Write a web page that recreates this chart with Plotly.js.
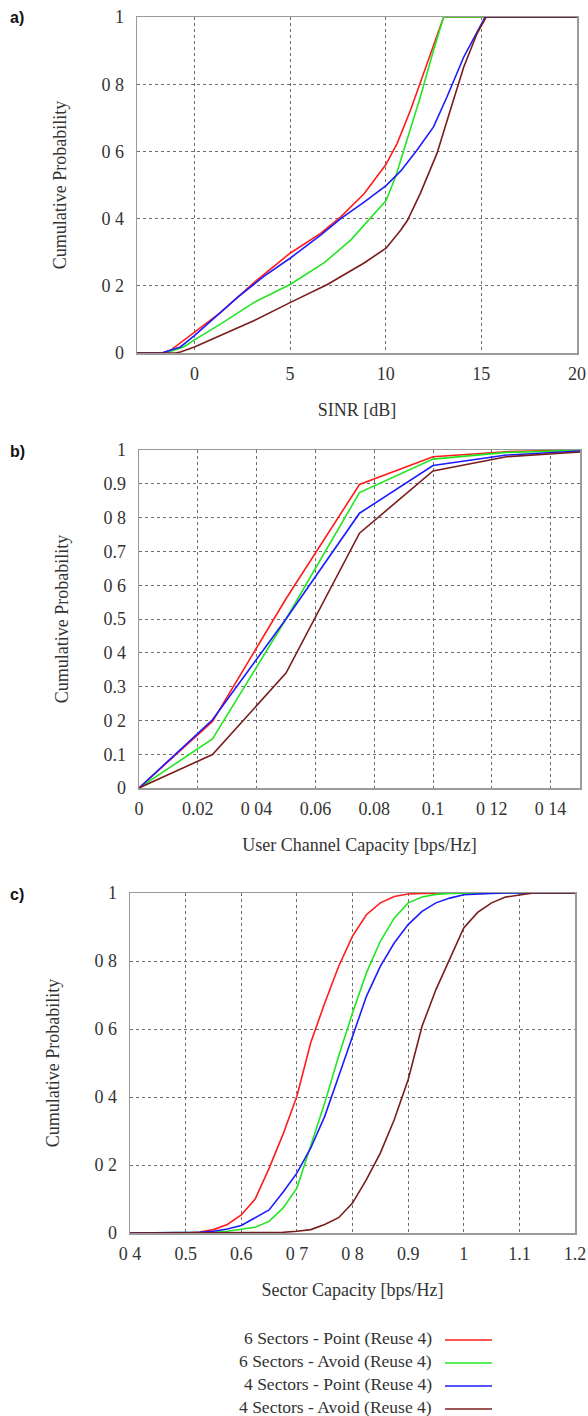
<!DOCTYPE html>
<html>
<head>
<meta charset="utf-8">
<script src="https://cdn.plot.ly/plotly-3.0.1.min.js"></script>
<style>html,body{margin:0;padding:0;background:#fff;}#chart{width:588px;height:1416px;}</style>
</head>
<body>
<div id="chart"></div>
<script>
// ---------- data ----------
const seriesNames = [
  "6 Sectors - Point (Reuse 4)",
  "6 Sectors - Avoid (Reuse 4)",
  "4 Sectors - Point (Reuse 4)",
  "4 Sectors - Avoid (Reuse 4)"
];

// a) SINR [dB] CDFs
const sinrX_6point = [-3, -1.7, -1.25, 0, 1.36, 3.1, 5, 6.6, 7.65, 8.87, 10, 10.6, 11.3, 12.16, 13.03, 20];
const sinrY_6point = [0, 0, 0.008, 0.062, 0.12, 0.209, 0.297, 0.356, 0.405, 0.474, 0.56, 0.624, 0.723, 0.861, 1, 1];
const sinrX_6avoid = [-3, -1.5, -0.56, 0, 1.36, 3.1, 5, 6.77, 8.17, 9.2, 10.02, 10.53, 11.11, 11.81, 12.5, 13.03, 20];
const sinrY_6avoid = [0, 0, 0.018, 0.039, 0.086, 0.15, 0.204, 0.268, 0.336, 0.4, 0.454, 0.527, 0.634, 0.762, 0.901, 1, 1];
const sinrX_4point = [-3, -1.7, -1.43, -0.73, 0, 1.36, 2.24, 3.63, 5, 6.6, 7.65, 8.87, 10.02, 10.79, 11.64, 12.5, 13.2, 14.08, 15.2, 20];
const sinrY_4point = [0, 0, 0.005, 0.018, 0.052, 0.12, 0.165, 0.228, 0.282, 0.351, 0.4, 0.449, 0.498, 0.542, 0.604, 0.673, 0.762, 0.881, 1, 1];
const sinrX_4avoid = [-3, -1.0, -0.73, 0, 1.36, 3.1, 5, 6.95, 8.87, 10.02, 10.79, 11.14, 11.81, 12.68, 13.38, 14.08, 14.77, 15.25, 20];
const sinrY_4avoid = [0, 0, 0.003, 0.018, 0.052, 0.096, 0.15, 0.204, 0.268, 0.312, 0.366, 0.395, 0.475, 0.594, 0.723, 0.851, 0.95, 1, 1];

// b) User channel capacity [bps/Hz] CDFs
const capX = [0, 0.025, 0.05, 0.075, 0.1, 0.125, 0.15];
const capY_6point = [0, 0.197, 0.56, 0.898, 0.98, 0.995, 1];
const capY_6avoid = [0, 0.145, 0.5, 0.874, 0.973, 0.993, 0.999];
const capY_4point = [0, 0.202, 0.5, 0.813, 0.954, 0.985, 0.997];
const capY_4avoid = [0, 0.099, 0.34, 0.754, 0.938, 0.98, 0.994];

// c) Sector capacity [bps/Hz] CDFs
const secX = [0.4, 0.5, 0.525, 0.55, 0.575, 0.6, 0.625, 0.65, 0.675, 0.7, 0.725, 0.75, 0.775, 0.8, 0.825, 0.85, 0.875, 0.9, 0.925, 0.95, 0.975, 1.0, 1.025, 1.05, 1.075, 1.1, 1.125, 1.15, 1.2];
const secY_6point = [0, 0, 0.003, 0.01, 0.025, 0.053, 0.1, 0.19, 0.29, 0.402, 0.56, 0.676, 0.784, 0.873, 0.936, 0.971, 0.99, 0.997, 0.999, 1, 1, 1, 1, 1, 1, 1, 1, 1, 1];
const secY_6avoid = [0, 0, 0, 0.002, 0.005, 0.01, 0.017, 0.034, 0.073, 0.132, 0.255, 0.382, 0.52, 0.647, 0.765, 0.858, 0.926, 0.971, 0.988, 0.996, 0.999, 1, 1, 1, 1, 1, 1, 1, 1];
const secY_4point = [0, 0, 0.002, 0.005, 0.012, 0.022, 0.044, 0.068, 0.12, 0.176, 0.25, 0.343, 0.46, 0.578, 0.696, 0.784, 0.853, 0.907, 0.946, 0.971, 0.985, 0.995, 0.998, 0.999, 1, 1, 1, 1, 1];
const secY_4avoid = [0, 0, 0, 0, 0, 0, 0, 0, 0.002, 0.005, 0.01, 0.025, 0.045, 0.088, 0.157, 0.235, 0.333, 0.451, 0.608, 0.716, 0.804, 0.897, 0.943, 0.971, 0.988, 0.995, 1, 1, 1];

// tick labels (as printed)
const probTickVals = [0, 0.2, 0.4, 0.6, 0.8, 1];
const probTickText = ["0", "0 2", "0 4", "0 6", "0 8", "1"];
const probTickValsB = [0, 0.1, 0.2, 0.3, 0.4, 0.5, 0.6, 0.7, 0.8, 0.9, 1];
const probTickTextB = ["0", "0.1", "0 2", "0.3", "0 4", "0.5", "0 6", "0.7", "0 8", "0.9", "1"];
const sinrTickVals = [0, 5, 10, 15, 20];
const sinrTickText = ["0", "5", "10", "15", "20"];
const capTickVals = [0, 0.02, 0.04, 0.06, 0.08, 0.1, 0.12, 0.14];
const capTickText = ["0", "0.02", "0 04", "0.06", "0.08", "0.1", "0 12", "0 14"];
const secTickVals = [0.4, 0.5, 0.6, 0.7, 0.8, 0.9, 1, 1.1, 1.2];
const secTickText = ["0 4", "0.5", "0.6", "0 7", "0 8", "0.9", "1", "1.1", "1.2"];

const panelLabels = ["a)", "b)", "c)"];
const xTitles = ["SINR [dB]", "User Channel Capacity [bps/Hz]", "Sector Capacity [bps/Hz]"];
const yTitle = "Cumulative Probability";

// ---------- styles ----------
const colors = ["#ff1c1c", "#22e622", "#1c1cff", "#7a1c1c"];
const W = 588, H = 1416;
const serif = "Liberation Serif, Times New Roman, serif";
const lineW = 1.6;

const panelsX = [[137, 577], [139, 580], [130, 575]];
const panelsY = [[17, 353], [450, 788], [893, 1233]];

const aData = [[sinrX_6point, sinrY_6point], [sinrX_6avoid, sinrY_6avoid], [sinrX_4point, sinrY_4point], [sinrX_4avoid, sinrY_4avoid]];
const bY = [capY_6point, capY_6avoid, capY_4point, capY_4avoid];
const cY = [secY_6point, secY_6avoid, secY_4point, secY_4avoid];

const traces = [];
for (let i = 0; i < 4; i++) {
  traces.push({x: aData[i][0], y: aData[i][1], xaxis: "x", yaxis: "y", mode: "lines", name: seriesNames[i], showlegend: false, line: {color: colors[i], width: lineW}, hoverinfo: "skip"});
}
for (let i = 0; i < 4; i++) {
  traces.push({x: capX, y: bY[i], xaxis: "x2", yaxis: "y2", mode: "lines", name: seriesNames[i], showlegend: false, line: {color: colors[i], width: lineW}, hoverinfo: "skip"});
}
for (let i = 0; i < 4; i++) {
  traces.push({x: secX, y: cY[i], xaxis: "x3", yaxis: "y3", mode: "lines", name: seriesNames[i], showlegend: false, line: {color: colors[i], width: lineW}, hoverinfo: "skip"});
}

function xAxis(k, range, vals, text, title) {
  return {
    domain: [panelsX[k][0] / W, panelsX[k][1] / W],
    anchor: k === 0 ? "y" : "y" + (k + 1),
    range: range, tickmode: "array", tickvals: vals, ticktext: text,
    showgrid: true, gridcolor: "#6f6f6f", griddash: "dot", gridwidth: 1,
    showline: true, linecolor: "#9a9a9a", linewidth: 1.5, mirror: true,
    zeroline: false, ticks: "", ticklabelstandoff: 4,
    tickfont: {family: serif, size: 18, color: "#333"},
    title: {text: title, font: {family: serif, size: 18, color: "#333"}, standoff: 20},
    fixedrange: true
  };
}
function yAxis(k, vals, text) {
  return {
    domain: [1 - panelsY[k][1] / H, 1 - panelsY[k][0] / H],
    anchor: k === 0 ? "x" : "x" + (k + 1),
    range: [0, 1], tickmode: "array", tickvals: vals, ticktext: text,
    showgrid: true, gridcolor: "#6f6f6f", griddash: "dot", gridwidth: 1,
    showline: true, linecolor: "#9a9a9a", linewidth: 1.5, mirror: true,
    zeroline: false, ticks: "", ticklabelstandoff: 8,
    tickfont: {family: serif, size: 18, color: "#333"},
    title: {text: yTitle, font: {family: serif, size: 18, color: "#333"}, standoff: 30},
    fixedrange: true
  };
}

const annotations = [];
panelLabels.forEach((t, k) => {
  annotations.push({text: t, xref: "paper", yref: "paper", x: 8 / W, y: 1 - (panelsY[k][0] + 1) / H, xanchor: "left", yanchor: "middle", showarrow: false, font: {family: "Liberation Sans, Arial, sans-serif", size: 16, color: "#111", weight: "bold"}});
});
const legendRowsY = [1338, 1361, 1384, 1407];
const shapes = [];
seriesNames.forEach((n, i) => {
  annotations.push({text: n, xref: "paper", yref: "paper", x: 434 / W, y: 1 - legendRowsY[i] / H, xanchor: "right", yanchor: "middle", showarrow: false, font: {family: serif, size: 17.5, color: "#333"}});
  shapes.push({type: "line", xref: "paper", yref: "paper", x0: 445 / W, x1: 492 / W, y0: 1 - (legendRowsY[i] + 2) / H, y1: 1 - (legendRowsY[i] + 2) / H, line: {color: colors[i], width: 1.6}});
});

const layout = {
  width: W, height: H,
  margin: {l: 0, r: 0, t: 0, b: 0},
  paper_bgcolor: "#fff", plot_bgcolor: "#fff",
  showlegend: false,
  xaxis: xAxis(0, [-3, 20], sinrTickVals, sinrTickText, xTitles[0]),
  yaxis: yAxis(0, probTickVals, probTickText),
  xaxis2: xAxis(1, [0, 0.15], capTickVals, capTickText, xTitles[1]),
  yaxis2: yAxis(1, probTickValsB, probTickTextB),
  xaxis3: xAxis(2, [0.4, 1.2], secTickVals, secTickText, xTitles[2]),
  yaxis3: yAxis(2, probTickVals, probTickText),
  annotations: annotations,
  shapes: shapes
};

Plotly.newPlot("chart", traces, layout, {staticPlot: true, displayModeBar: false});
</script>
</body>
</html>
